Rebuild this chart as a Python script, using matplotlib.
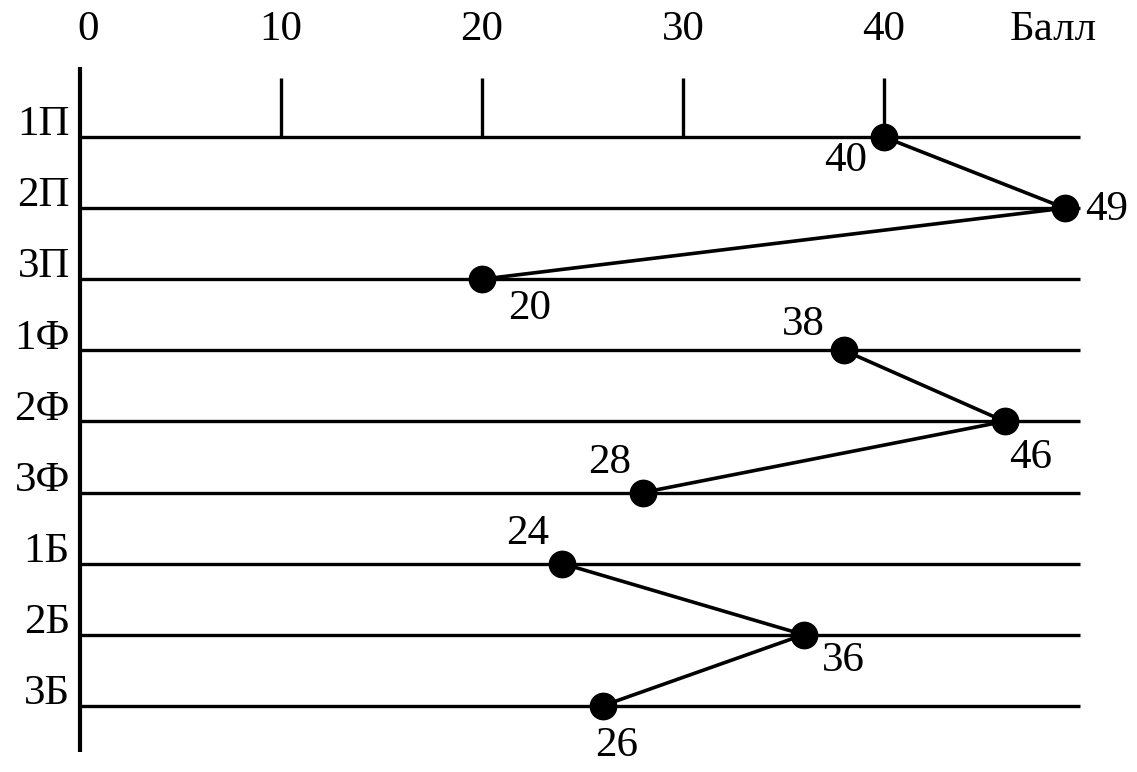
import matplotlib
matplotlib.use("Agg")
import matplotlib.pyplot as plt

categories = ["1П", "2П", "3П", "1Ф", "2Ф", "3Ф", "1Б", "2Б", "3Б"]
scores = [40, 49, 20, 38, 46, 28, 24, 36, 26]
groups = ["П", "П", "П", "Ф", "Ф", "Ф", "Б", "Б", "Б"]
tick_values = [0, 10, 20, 30, 40]
axis_title = "Балл"
# label offsets in pixels (dx, dy) relative to the dot
label_offsets = [(-38, -24), (42, -2), (48, -30), (-40, 26), (26, -36),
                 (-33, 30), (-35, 30), (40, -26), (14, -40)]

W, H = 1137, 772
fig = plt.figure(figsize=(W / 100, H / 100), dpi=100)
ax = fig.add_axes([0, 0, 1, 1])
ax.set_axis_off()

# pixel mapping: x_pix = 80 + 20.1*v ; y_pix = 137 + 71.1*i
px_per_unit = 20.1
x0 = 80
ax.set_xlim(-x0 / px_per_unit, (W - x0) / px_per_unit)
row_h = 71.1
y0 = 137
ax.set_ylim((H - y0) / row_h, -y0 / row_h)

font = dict(family="Liberation Serif", fontsize=31, color="black")

n = len(categories)
ys = list(range(n))

# vertical axis
ax.plot([0, 0], [(67 - y0) / row_h, (752 - y0) / row_h], color="black", lw=3, solid_capstyle="butt")
# horizontal row lines
for y in ys:
    ax.plot([0, (1080 - x0) / px_per_unit], [y, y], color="black", lw=2.4, solid_capstyle="butt")
# ticks on top
for t in tick_values[1:]:
    ax.plot([t, t], [(78 - y0) / row_h, 0], color="black", lw=2.4, solid_capstyle="butt")
# tick labels
for t in tick_values:
    ax.text(t + 0.4 if t == 0 else t, (30 - y0) / row_h, str(t), ha="center", va="center", **font)
ax.text((1053 - x0) / px_per_unit, (30 - y0) / row_h, axis_title, ha="center", va="center", **font)

# category labels
for y, c in zip(ys, categories):
    ax.text(-0.5, y - 12 / row_h, c, ha="right", va="center", **font)

# data lines (one per group) and dots
seen = []
for g in groups:
    if g not in seen:
        seen.append(g)
for g in seen:
    gx = [s for s, gg in zip(scores, groups) if gg == g]
    gy = [y for y, gg in zip(ys, groups) if gg == g]
    ax.plot(gx, gy, color="black", lw=2.6, marker="o", markersize=19,
            markerfacecolor="black", zorder=5)

for s, y, (dx, dy) in zip(scores, ys, label_offsets):
    ax.annotate(str(s), (s, y), xytext=(dx, dy), textcoords="offset pixels",
                ha="center", va="center", **font)

fig.savefig("out.png", dpi=100)
